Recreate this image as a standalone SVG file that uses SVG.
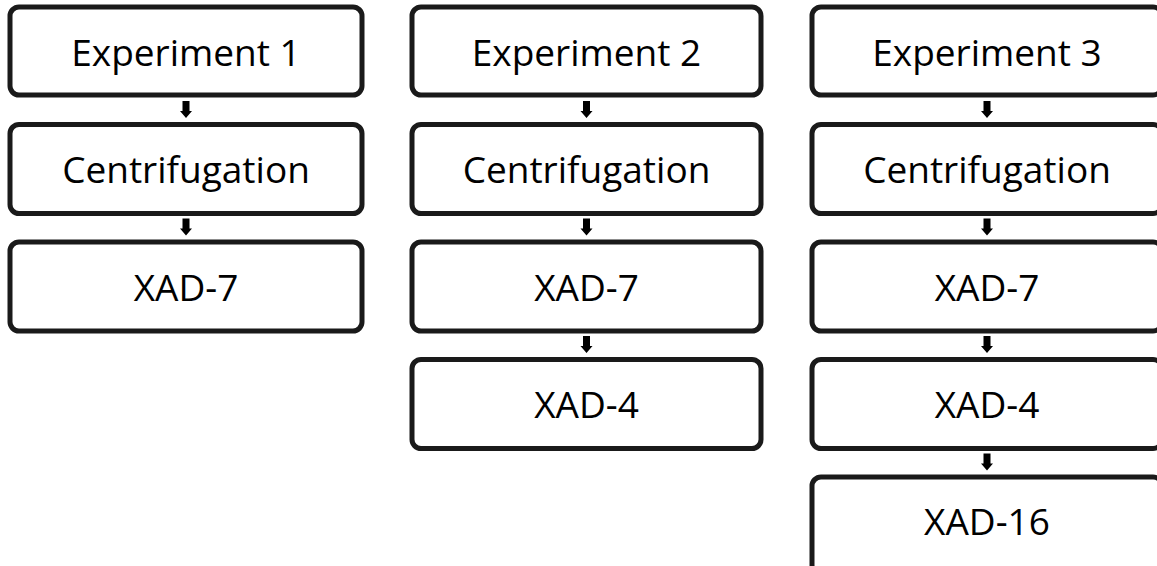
<svg xmlns="http://www.w3.org/2000/svg" width="1157" height="566" viewBox="0 0 1157 566">
  <style>
    .box { fill: #ffffff; stroke: #1a1a1a; stroke-width: 5; }
    .label { font-family: "Open Sans", "Noto Sans", sans-serif; font-size: 37px; fill: #000000; text-anchor: middle; dominant-baseline: central; }
    .arrow { fill: #000000; }
  </style>
  <defs>
    <!-- small block arrow pointing down, origin at its top centre -->
    <path id="down" d="M -3.5 0 H 3.5 V 10 H 6 L 0 17 L -6 10 H -3.5 Z"/>
  </defs>
  <rect width="1157" height="566" fill="#ffffff"/>

  <!-- Column 1 -->
  <g id="exp1">
    <rect class="box" x="10" y="7" width="352" height="88" rx="9"/>
    <text class="label" x="186" y="51">Experiment 1</text>
  </g>
  <g id="exp1-centrifugation">
    <rect class="box" x="10" y="124.5" width="352" height="89" rx="9"/>
    <text class="label" x="186" y="168.5">Centrifugation</text>
  </g>
  <g id="exp1-xad7">
    <rect class="box" x="10" y="242" width="352" height="89" rx="9"/>
    <text class="label" x="186" y="286">XAD-7</text>
  </g>

  <!-- Column 2 -->
  <g id="exp2">
    <rect class="box" x="412" y="7" width="349" height="88" rx="9"/>
    <text class="label" x="586.5" y="51">Experiment 2</text>
  </g>
  <g id="exp2-centrifugation">
    <rect class="box" x="412" y="124.5" width="349" height="89" rx="9"/>
    <text class="label" x="586.5" y="168.5">Centrifugation</text>
  </g>
  <g id="exp2-xad7">
    <rect class="box" x="412" y="242" width="349" height="89" rx="9"/>
    <text class="label" x="586.5" y="286">XAD-7</text>
  </g>
  <g id="exp2-xad4">
    <rect class="box" x="412" y="359.5" width="349" height="89" rx="9"/>
    <text class="label" x="586.5" y="403.5">XAD-4</text>
  </g>

  <!-- Column 3 -->
  <g id="exp3">
    <rect class="box" x="812" y="7" width="350" height="88" rx="9"/>
    <text class="label" x="987" y="51">Experiment 3</text>
  </g>
  <g id="exp3-centrifugation">
    <rect class="box" x="812" y="124.5" width="350" height="89" rx="9"/>
    <text class="label" x="987" y="168.5">Centrifugation</text>
  </g>
  <g id="exp3-xad7">
    <rect class="box" x="812" y="242" width="350" height="89" rx="9"/>
    <text class="label" x="987" y="286">XAD-7</text>
  </g>
  <g id="exp3-xad4">
    <rect class="box" x="812" y="359.5" width="350" height="89" rx="9"/>
    <text class="label" x="987" y="403.5">XAD-4</text>
  </g>
  <g id="exp3-xad16">
    <rect class="box" x="812" y="477" width="350" height="97" rx="9"/>
    <text class="label" x="987" y="520">XAD-16</text>
  </g>

  <!-- Connectors -->
  <g id="connectors" class="arrow">
    <use href="#down" x="186" y="101"/>
    <use href="#down" x="186" y="218.5"/>
    <use href="#down" x="586.5" y="101"/>
    <use href="#down" x="586.5" y="218.5"/>
    <use href="#down" x="586.5" y="336"/>
    <use href="#down" x="987" y="101"/>
    <use href="#down" x="987" y="218.5"/>
    <use href="#down" x="987" y="336"/>
    <use href="#down" x="987" y="453.5"/>
  </g>
</svg>
